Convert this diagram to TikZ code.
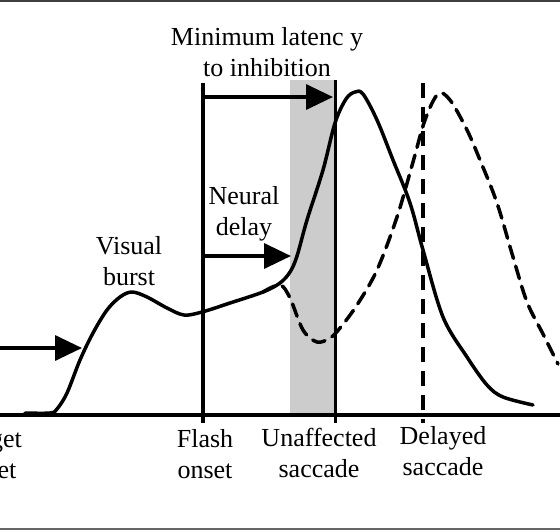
\documentclass[tikz,border=0pt]{standalone}
\usepackage{fontspec}
\setmainfont{Liberation Serif}
\usetikzlibrary{arrows.meta,positioning}

\begin{document}
\begin{tikzpicture}[x=1pt,y=-1pt,
  lbl/.style={align=center,font=\fontsize{26}{31}\selectfont,inner sep=0pt},
  bar/.style={line width=3.5pt},
  dashbar/.style={line width=4.5pt,dash pattern=on 15pt off 9pt},
  curve/.style={line width=3.5pt,line join=round,line cap=round},
  gap/.style={-{Triangle[length=27pt,width=25pt]},line width=3.5pt}]
\clip (0,0) rectangle (560,531);
% --- frame ---
\draw[line width=2pt,black!75] (0,1) -- (560,1);
\draw[line width=2pt,black!60] (0,529) -- (560,529);
% --- shaded window before the unaffected saccade ---
\fill[black!20] (290,80) rectangle (335,415);
% --- activity curves ---
\draw[curve,dash pattern=on 13pt off 8pt] plot[smooth,tension=0.55] coordinates {
  (263,292) (280,285) (290,298) (303,330) (317,342) (330,338) (340,328)
  (357,305) (377,270) (397,217) (413,162) (425,120) (438,94) (450,100)
  (467,130) (480,160) (497,203) (513,257) (527,302) (543,334) (558,364)};
\draw[curve] plot[smooth,tension=0.55] coordinates {
  (25,413) (50,413) (57,409) (67,393) (80,360) (93,333) (107,310) (120,297)
  (132,292) (147,297) (167,308) (184,315) (202,312) (230,303) (263,292)
  (280,283) (290,272) (297,256) (307,220) (323,170) (335,123) (346,99)
  (355,92) (363,94) (377,120) (393,160) (410,203) (423,250) (443,317)
  (467,357) (487,385) (503,397) (533,405)};
% --- axis and event markers ---
\coordinate (axl) at (0,415);
\coordinate (axr) at (560,415);
\draw[bar] (axl) -- (axr);
\coordinate (flashtop) at (203,83);
\coordinate (flashbot) at (203,423);
\draw[bar] (flashtop) -- (flashbot);
\coordinate (unafftop) at (335,80);
\coordinate (unaffbot) at (335,423);
\draw[line width=3pt] (unafftop) -- (unaffbot);
\coordinate (delaytop) at (423,83);
\coordinate (delaybot) at (423,423);
\draw[dashbar] (delaytop) -- (delaybot);
% --- interval arrows ---
\coordinate (latfrom) at (203,97);
\coordinate (latto) at (333,97);
\draw[gap] (latfrom) -- (latto);
\coordinate (neufrom) at (203,256);
\coordinate (neuto) at (291,256);
\draw[gap] (neufrom) -- (neuto);
\coordinate (tgtfrom) at (-5,348);
\coordinate (tgtto) at (82,348);
\draw[gap] (tgtfrom) -- (tgtto);
% --- labels (base = baseline of the second line) ---
\node[lbl,anchor=base] (minlat) at (267,76) {Minimum latenc y\\to inhibition};
\node[lbl,anchor=base] (neural) at (244,235) {Neural\\delay};
\node[lbl,anchor=base] (visual) at (129,285) {Visual\\burst};
\node[lbl,anchor=base] (target) at (-11,478) {Target\\onset};
\node[lbl,anchor=base] (flash) at (205,478) {Flash\\onset};
\node[lbl,anchor=base] (unaff) at (319,477) {Unaffected\\saccade};
\node[lbl,anchor=base] (delayed) at (443,475) {Delayed\\saccade};
\end{tikzpicture}
\end{document}
